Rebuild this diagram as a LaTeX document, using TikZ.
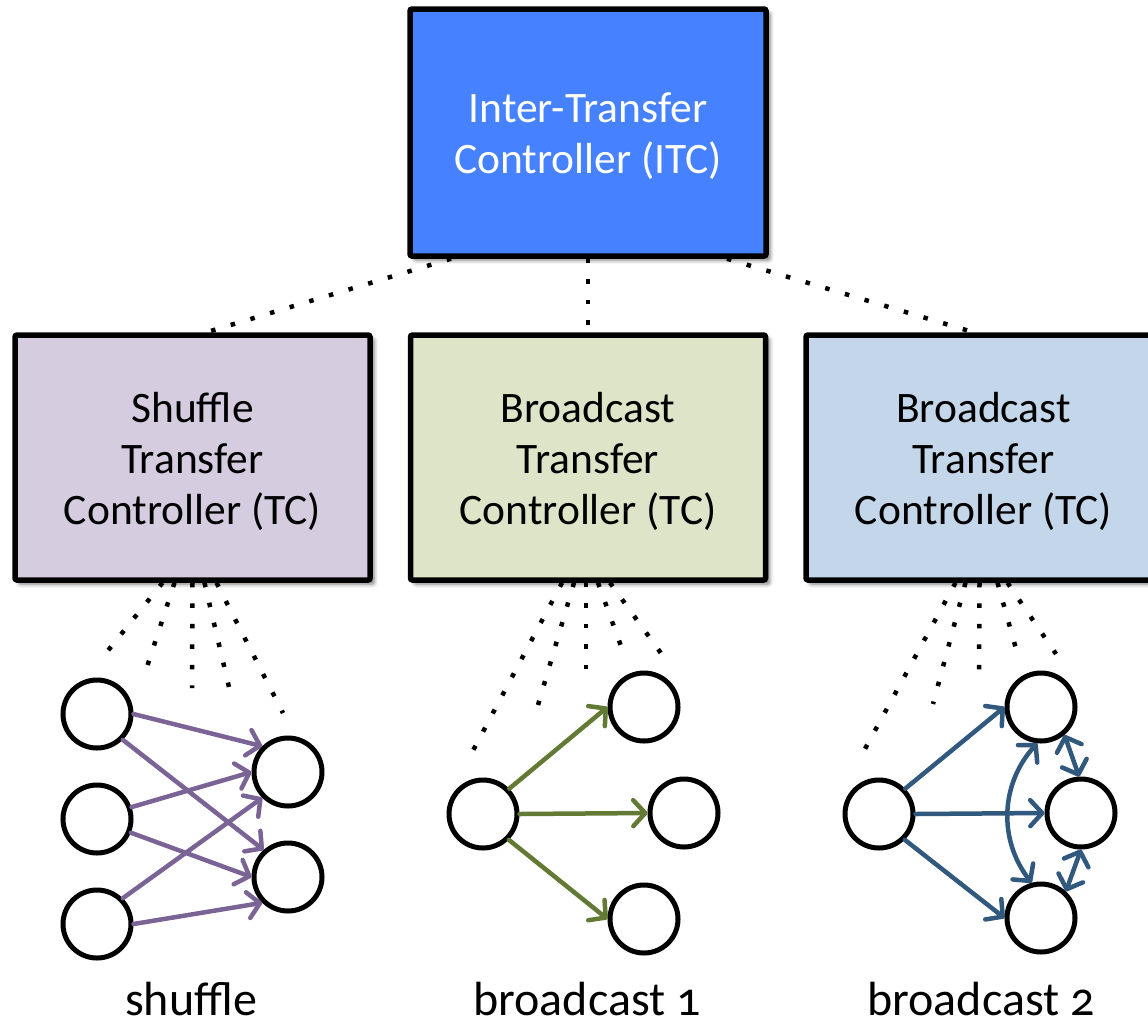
\documentclass[tikz,border=0pt]{standalone}
\usepackage{fontspec}
\setmainfont{Carlito}[Numbers=OldStyle]
\usetikzlibrary{arrows.meta,shadows.blur,calc}

\definecolor{itcblue}{RGB}{70,130,255}
\definecolor{shufbg}{RGB}{213,204,224}
\definecolor{bcastAbg}{RGB}{221,228,200}
\definecolor{bcastBbg}{RGB}{196,215,234}
\definecolor{shufarr}{RGB}{122,100,150}
\definecolor{bcastAarr}{RGB}{99,122,52}
\definecolor{bcastBarr}{RGB}{49,88,125}

\tikzset{
  ctrl/.style={draw=black, line width=5.5pt, rounded corners=2pt,
    minimum width=355pt, minimum height=245pt,
    blur shadow={shadow xshift=4pt, shadow yshift=-4pt,
      shadow blur radius=4pt, shadow opacity=55}},
  boxtext/.style={align=center, yshift=-4pt,
    font=\fontsize{43.5}{51}\selectfont},
  task/.style={circle, draw=black, line width=5pt, fill=white,
    minimum size=68pt, inner sep=0pt},
  link/.style={line width=4.5pt, dash pattern=on 4.5pt off 16pt},
  barb/.tip={Straight Barb[length=12pt,width=26pt,round]},
  flow/.style={line width=4.5pt, line cap=round, -barb},
  flow2/.style={line width=4.5pt, line cap=round, barb-barb},
  caption/.style={font=\fontsize{48}{56}\selectfont, anchor=base, inner sep=0pt}
}

\begin{document}
\begin{tikzpicture}[x=1pt,y=-1pt]
\clip (0,0) rectangle (1148,1021);

% controllers
\node[ctrl, fill=itcblue, minimum width=356pt, minimum height=247pt,
  label={[boxtext, text=white]center:Inter-Transfer\\Controller (ITC)}]
  (itc) at (588,132.5) {};
\node[ctrl, fill=shufbg,
  label={[boxtext]center:Shuffle\\Transfer\\Controller (TC)}]
  (tcs) at (192.5,457.5) {};
\node[ctrl, fill=bcastAbg,
  label={[boxtext]center:Broadcast\\Transfer\\Controller (TC)}]
  (tca) at (588,457.5) {};
\node[ctrl, fill=bcastBbg,
  label={[boxtext]center:Broadcast\\Transfer\\Controller (TC)}]
  (tcb) at (983.5,457.5) {};

% ITC to TC links
\draw[link] ($(itc.south)+(-137,0)$) -- ($(tcs.north)+(14,0)$);
\draw[link] (itc.south) -- (tca.north);
\draw[link] ($(itc.south)+(139,0)$) -- ($(tcb.north)+(-10,0)$);

% shuffle transfer
\node[task] (s1) at (97,714) {};
\node[task] (s2) at (97,819) {};
\node[task] (s3) at (97,924) {};
\node[task] (r1) at (288,772) {};
\node[task] (r2) at (288,877) {};
\begin{scope}[draw=shufarr]
\draw[flow] (s1.0) -- (r1.135);
\draw[flow] (s1.-45) -- (r2.132);
\draw[flow] (s2.19) -- (r1.180);
\draw[flow] (s2.-22) -- (r2.180);
\draw[flow] (s3.45) -- (r1.225);
\draw[flow] (s3.0) -- (r2.225);
\end{scope}

% broadcast 1
\node[task] (a0) at (483,814) {};
\node[task] (a1) at (644,707) {};
\node[task] (a2) at (684,813) {};
\node[task] (a3) at (644,919) {};
\begin{scope}[draw=bcastAarr]
\draw[flow] (a0.44) -- (a1.180);
\draw[flow] (a0.0) -- (a2.180);
\draw[flow] (a0.-45) -- (a3.180);
\end{scope}

% broadcast 2
\node[task] (b0) at (879,814) {};
\node[task] (b1) at (1041,707) {};
\node[task] (b2) at (1081,813) {};
\node[task] (b3) at (1041,918) {};
\begin{scope}[draw=bcastBarr]
\draw[flow] (b0.44) -- (b1.180);
\draw[flow] (b0.0) -- (b2.180);
\draw[flow] (b0.-45) -- (b3.180);
\draw[flow2] (b1.-50) -- (b2.93);
\draw[flow2] (b2.-90) -- (b3.47);
\draw[flow2] (b1.-96) to[bend right=40] (b3.105);
\end{scope}

% TC to task links
\foreach \dx/\ex/\ey in {-30/102/658, -18/143/679, 0/192/688, 12/232/700, 24/283/713}
  \draw[link] ($(tcs.south)+(\dx,0)$) -- (\ex,\ey);
\foreach \dx/\ex/\ey in {-26/468/760, -14/538/705, -2/586/680, 10/625/657, 22/663/656}
  \draw[link] ($(tca.south)+(\dx,0)$) -- (\ex,\ey);
\foreach \dx/\ex/\ey in {-28/860/758, -18/933/704, -4/979/678, 14/1018/656, 24/1056/654}
  \draw[link] ($(tcb.south)+(\dx,0)$) -- (\ex,\ey);

% captions
\node[caption] (cs) at (191,1015) {shuffle};
\node[caption] (ca) at (587,1015) {broadcast 1};
\node[caption] (cb) at (981,1015) {broadcast 2};
\end{tikzpicture}
\end{document}
